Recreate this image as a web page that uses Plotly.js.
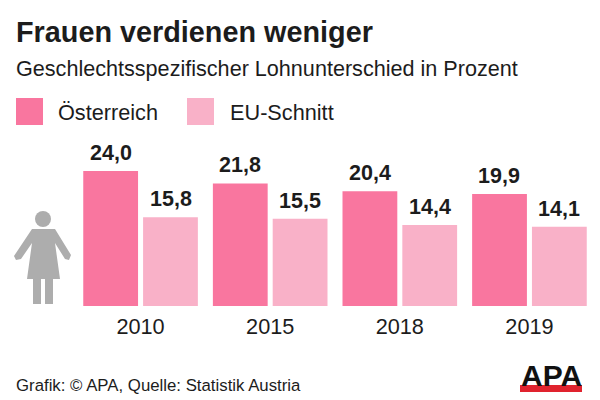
<!DOCTYPE html>
<html><head><meta charset="utf-8">
<script src="https://cdn.plot.ly/plotly-3.0.1.min.js"></script>
<style>html,body{margin:0;padding:0;background:#fff}#c{width:600px;height:400px}</style>
</head><body><div id="c"></div>
<script>
const categories = ['2010','2015','2018','2019'];
const oesterreich = [24.0,21.8,20.4,19.9];
const euSchnitt = [15.8,15.5,14.4,14.1];
const seriesNames = ['Österreich','EU-Schnitt'];
const titleText = 'Frauen verdienen weniger';
const subtitleText = 'Geschlechtsspezifischer Lohnunterschied in Prozent';
const sourceText = 'Grafik: © APA, Quelle: Statistik Austria';
const colA = '#F9769F', colB = '#F9B1C8';
const FONT = '"Liberation Sans", Arial, sans-serif';
const fx = x => x/600, fy = y => 1-y/400;
function txt(text,x,y,size,opts={}){
  return Object.assign({text,xref:'paper',yref:'paper',x:fx(x),y:fy(y),xanchor:'left',yanchor:'middle',
    showarrow:false,font:{family:FONT,size,color:'#1c1c1c'},borderpad:0,borderwidth:0},opts);
}
function rect(x0,y0,x1,y1,color,line){
  return {type:'rect',xref:'paper',yref:'paper',x0:fx(x0),x1:fx(x1),y0:fy(y0),y1:fy(y1),fillcolor:color,line:line||{width:0},layer:'above'};
}
const valueLabels = (vals,shift)=>vals.map((v,i)=>({xref:'x',yref:'y',x:i,y:v,xshift:shift,yshift:5,
  xanchor:'center',yanchor:'bottom',showarrow:false,borderpad:0,
  text:'<b>'+v.toFixed(1).replace('.',',')+'</b>',font:{family:FONT,size:21.5,color:'#1c1c1c'}}));
const figure = [[32,229],[55,229],[71,255],[69,260],[65,259],[55,243],[60,279],[53,279],[53,304],[45,304],[45,279],[41,279],[41,304],[33,304],[33,279],[27,279],[32,243],[21,259],[16,260],[14,256]];
const figPath = 'M'+figure.map(p=>fx(p[0]).toFixed(5)+','+fy(p[1]).toFixed(5)).join(' L')+' Z';
const mk = (name,vals,color)=>({type:'bar',name,x:categories,y:vals,marker:{color,line:{width:0}},hoverinfo:'x+y'});
const layout = {
  width:600,height:400,margin:{l:0,r:0,t:0,b:0},paper_bgcolor:'#fff',plot_bgcolor:'#fff',showlegend:false,
  barmode:'group',bargap:0.077,bargroupgap:0.084,
  font:{family:FONT},
  xaxis:{domain:[75.75/600,594.25/600],type:'category',range:[-0.5,3.5],showgrid:false,zeroline:false,showline:false,
    ticks:'outside',ticklen:1,tickcolor:'rgba(0,0,0,0)',
    tickfont:{family:FONT,size:21.7,color:'#1c1c1c'},automargin:false},
  yaxis:{domain:[fy(306),fy(137.25)],range:[0,30],visible:false,fixedrange:true},
  annotations:[
    txt('<b>'+titleText+'</b>',16,32,28.8),
    txt(subtitleText,16,68,21.6),
    txt(seriesNames[0],58,113,21.7),
    txt(seriesNames[1],230,113,21.7),
    txt(sourceText,16,385,16.8),
    txt('<b>APA</b>',551,375,30,{xanchor:'center',font:{family:FONT,size:30,color:'#111'}}),
    ...valueLabels(oesterreich,-30),
    ...valueLabels(euSchnitt,30)
  ],
  shapes:[
    rect(16,98,43,125,colA),
    rect(187,98,214,125,colB),
    {type:'circle',xref:'paper',yref:'paper',x0:fx(35),x1:fx(51),y0:fy(211),y1:fy(227),fillcolor:'#adadad',line:{width:0}},
    {type:'path',xref:'paper',yref:'paper',path:figPath,fillcolor:'#adadad',line:{width:0}},
    rect(520,385,582,392,'#E0232E')
  ]
};
Plotly.newPlot('c',[mk(seriesNames[0],oesterreich,colA),mk(seriesNames[1],euSchnitt,colB)],layout,{displayModeBar:false,staticPlot:true});
</script></body></html>
